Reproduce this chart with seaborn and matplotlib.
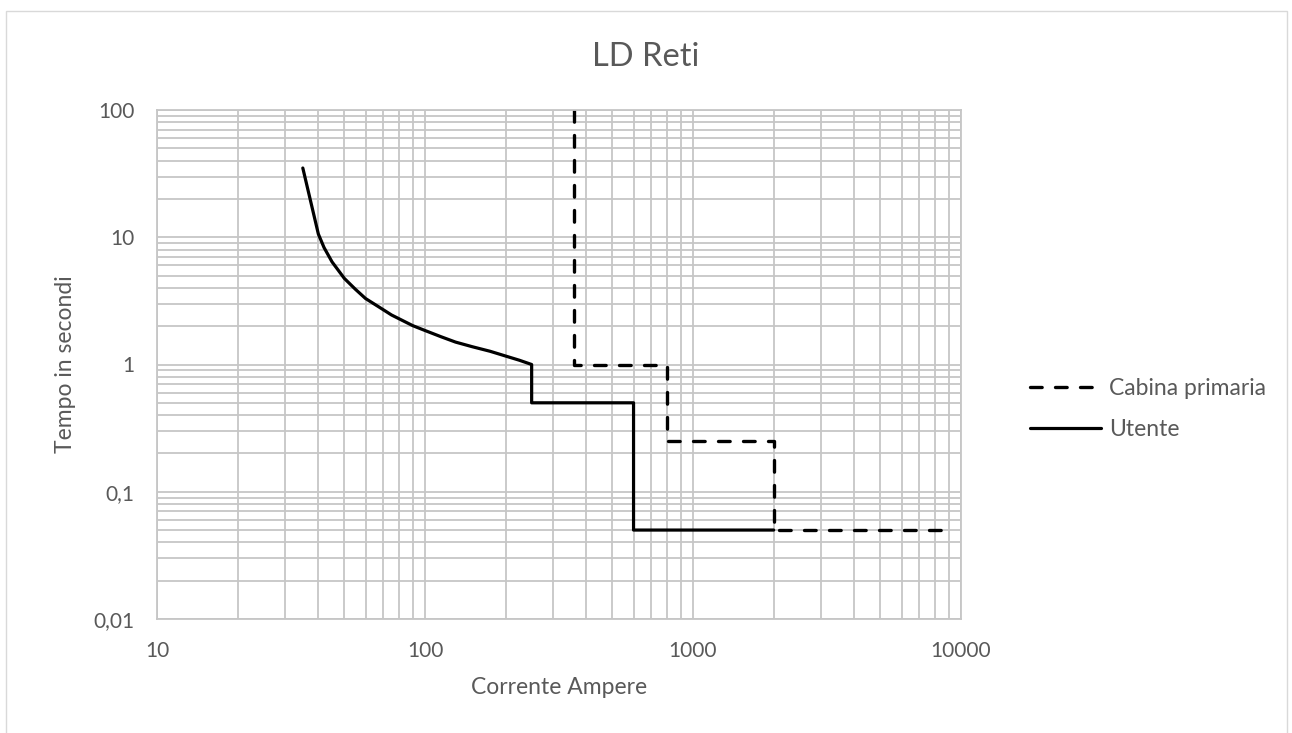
import matplotlib
matplotlib.use("Agg")
import matplotlib.pyplot as plt
import matplotlib.patches as mpatches
import numpy as np
import pandas as pd
import seaborn as sns

# ---- data ----
utente_I = [35, 40, 42, 45, 50, 55, 60, 67, 75, 90, 100, 115, 130, 150, 175, 200, 225, 250,
            250, 600, 600, 2000]
utente_t = [35, 10.6, 8.3, 6.4, 4.75, 3.9, 3.3, 2.85, 2.45, 2.02, 1.85, 1.65, 1.5, 1.38, 1.27, 1.165, 1.08, 1.0,
            0.5, 0.5, 0.05, 0.05]

cabina_I = [360, 360, 800, 800, 2000, 2000, 9000]
cabina_t = [100, 1, 1, 0.25, 0.25, 0.05, 0.05]

x_ticks = [10, 100, 1000, 10000]
x_tick_labels = ["10", "100", "1000", "10000"]
y_ticks = [0.01, 0.1, 1, 10, 100]
y_tick_labels = ["0,01", "0,1", "1", "10", "100"]

title = "LD Reti"
x_label = "Corrente Ampere"
y_label = "Tempo in secondi"

# ---- style ----
sns.set_theme(style="white")
plt.rcParams["font.family"] = ["Lato", "DejaVu Sans"]
text_color = "#595959"
grid_color = "#c6c6c6"

W, H = 1292, 733
fig = plt.figure(figsize=(W / 100, H / 100), dpi=100)

# outer chart border
fig.patches.append(mpatches.Rectangle((6 / W, -0.01), (1287 - 6) / W, 1 - 10.7 / H + 0.01,
                                      transform=fig.transFigure, fill=False,
                                      edgecolor="#d9d9d9", linewidth=1.0))

left, right, top, bottom = 157, 961, 110, 619
ax = fig.add_axes([left / W, 1 - bottom / H, (right - left) / W, (bottom - top) / H])

df_cab = pd.DataFrame({"I": cabina_I, "t": cabina_t})
df_ut = pd.DataFrame({"I": utente_I, "t": utente_t})

sns.lineplot(data=df_cab, x="I", y="t", ax=ax, sort=False, estimator=None,
             color="black", linewidth=2.4, linestyle=(0, (3.5, 4.0)),
             dash_capstyle="round", label="Cabina primaria")
sns.lineplot(data=df_ut, x="I", y="t", ax=ax, sort=False, estimator=None,
             color="black", linewidth=2.3, solid_joinstyle="round",
             label="Utente")

ax.set_xscale("log")
ax.set_yscale("log")
ax.set_xlim(10, 10000)
ax.set_ylim(0.01, 100)

ax.set_xticks(x_ticks)
ax.set_xticklabels(x_tick_labels)
ax.set_yticks(y_ticks)
ax.set_yticklabels(y_tick_labels)
ax.xaxis.set_minor_locator(matplotlib.ticker.LogLocator(base=10, subs=np.arange(2, 10)))
ax.yaxis.set_minor_locator(matplotlib.ticker.LogLocator(base=10, subs=np.arange(2, 10)))
ax.xaxis.set_minor_formatter(matplotlib.ticker.NullFormatter())
ax.yaxis.set_minor_formatter(matplotlib.ticker.NullFormatter())

ax.tick_params(which="both", length=0, labelsize=15, labelcolor=text_color)
ax.tick_params(axis="x", pad=16)
ax.tick_params(axis="y", pad=16)

ax.grid(True, which="both", color=grid_color, linewidth=1.3)
ax.set_axisbelow(True)
for s in ax.spines.values():
    s.set_color(grid_color)
    s.set_linewidth(1.3)

ax.set_xlabel(x_label, fontsize=16.5, color=text_color, labelpad=11)
ax.set_ylabel(y_label, fontsize=16.5, color=text_color, labelpad=13)

fig.text(646 / W, 1 - 57 / H, title, ha="center", va="center", fontsize=23.5, color=text_color)

ax.get_legend().remove()
handles, labels = ax.get_legend_handles_labels()
leg = fig.legend(handles, labels, loc="center left",
                 bbox_to_anchor=(1030 / W, 1 - 409 / H), frameon=False,
                 fontsize=16.5, handlelength=3.1, handletextpad=0.35, labelspacing=0.85,
                 borderaxespad=0, borderpad=0)
for t in leg.get_texts():
    t.set_color(text_color)

fig.savefig("out.png", dpi=100)
